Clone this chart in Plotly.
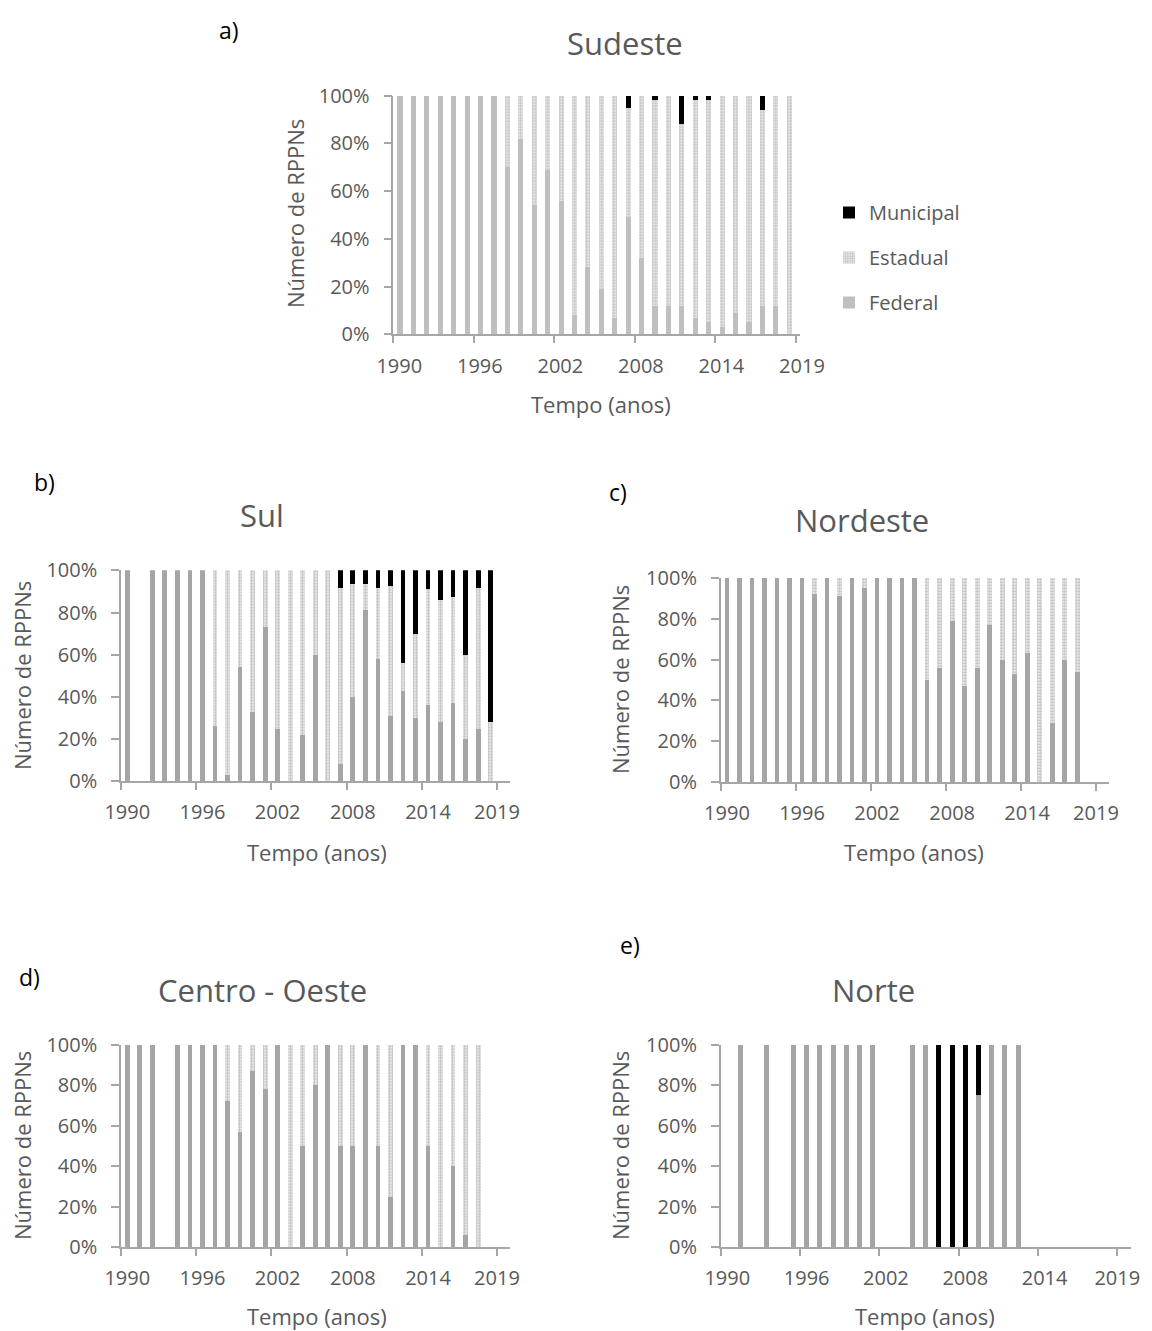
import plotly.graph_objects as go

# ---------------- data (percent of RPPNs per year) ----------------
years = list(range(1990, 2020))
tick_vals = [1989.5, 1995.5, 2001.5, 2007.5, 2013.5, 2019.5]
tick_text = ["1990", "1996", "2002", "2008", "2014", "2019"]
label_vals = [1990, 1996, 2002, 2008, 2014, 2019.5]
y_ticks = [0, 20, 40, 60, 80, 100]
y_tick_text = ["0%", "20%", "40%", "60%", "80%", "100%"]

# a) Sudeste
sudeste_federal = [100, 100, 100, 100, 100, 100, 100, 100, 70, 82, 54, 69, 56, 8, 28, 19, 7, 49, 32, 12,
                   12, 12, 7, 5, 3, 9, 5, 12, 12, 0]
sudeste_estadual = [0, 0, 0, 0, 0, 0, 0, 0, 30, 18, 46, 31, 44, 92, 72, 81, 93, 46, 68, 86,
                    88, 76, 91, 93, 97, 91, 95, 82, 88, 100]
sudeste_municipal = [0, 0, 0, 0, 0, 0, 0, 0, 0, 0, 0, 0, 0, 0, 0, 0, 0, 5, 0, 2,
                     0, 12, 2, 2, 0, 0, 0, 6, 0, 0]

# b) Sul
sul_federal = [100, None, 100, 100, 100, 100, 100, 26, 3, 54, 33, 73, 25, 0, 22, 60, 0, 8, 40, 81,
               58, 31, 43, 30, 36, 28, 37, 20, 25, 0]
sul_estadual = [0, None, 0, 0, 0, 0, 0, 74, 97, 46, 67, 27, 75, 100, 78, 40, 100, 83.5, 53.4, 12.7,
                33.5, 61.4, 13, 40, 55, 58, 50.5, 40, 66.5, 28]
sul_municipal = [0, None, 0, 0, 0, 0, 0, 0, 0, 0, 0, 0, 0, 0, 0, 0, 0, 8.5, 6.6, 6.3,
                 8.5, 7.6, 44, 30, 9, 14, 12.5, 40, 8.5, 72]

# c) Nordeste
nordeste_federal = [100, 100, 100, 100, 100, 100, 100, 92, 100, 91, 100, 95, 100, 100, 100, 100, 50, 56, 79, 47,
                    56, 77, 60, 53, 63, 0, 29, 60, 54, None]
nordeste_estadual = [0, 0, 0, 0, 0, 0, 0, 8, 0, 9, 0, 5, 0, 0, 0, 0, 50, 44, 21, 53,
                     44, 23, 40, 47, 37, 100, 71, 40, 46, None]
nordeste_municipal = [0] * 29 + [None]

# d) Centro - Oeste
co_federal = [100, 100, 100, None, 100, 100, 100, 100, 72, 57, 87, 78, 100, 0, 50, 80, 100, 50, 50, 100,
              50, 25, 100, 100, 50, 0, 40, 6, 0, None]
co_estadual = [0, 0, 0, None, 0, 0, 0, 0, 28, 43, 13, 22, 0, 100, 50, 20, 0, 50, 50, 0,
               50, 75, 0, 0, 50, 100, 60, 94, 100, None]
co_municipal = [0, 0, 0, None] + [0] * 25 + [None]

# e) Norte
norte_federal = [None, 100, None, 100, None, 100, 100, 100, 100, 100, 100, 100, None, None, 100, 100, 0, 0, 0, 75,
                 100, 100, 100, None, None, None, None, None, None, None]
norte_estadual = [None, 0, None, 0, None, 0, 0, 0, 0, 0, 0, 0, None, None, 0, 0, 0, 0, 0, 0,
                  0, 0, 0, None, None, None, None, None, None, None]
norte_municipal = [None, 0, None, 0, None, 0, 0, 0, 0, 0, 0, 0, None, None, 0, 0, 100, 100, 100, 25,
                   0, 0, 0, None, None, None, None, None, None, None]

# ---------------- styling ----------------
W, H = 1152, 1331
FONT = "Open Sans"
TXT = "#595959"
AXC = "#a6a6a6"


def px_x(p):
    return p / W


def px_y(p):
    return 1 - p / H


regions = [
    dict(title="Sudeste", letter="a)", F=sudeste_federal, E=sudeste_estadual, M=sudeste_municipal,
         ax="", lab=None, fed="#bfbfbf", xd=[393.3, 800], yd=[95.7, 334.3], xr=[1989.5, 2019.8],
         title_xy=(625, 43), letter_xy=(229, 30), xt_xy=(601, 404), yt_xy=(295, 214)),
    dict(title="Sul", letter="b)", F=sul_federal, E=sul_estadual, M=sul_municipal,
         ax="2", lab="6", fed="#a5a5a5", xd=[121, 509.5], yd=[570.3, 781.3], xr=[1989.5, 2020.5],
         title_xy=(262, 515), letter_xy=(44, 482), xt_xy=(317, 852), yt_xy=(22, 676)),
    dict(title="Nordeste", letter="c)", F=nordeste_federal, E=nordeste_estadual, M=nordeste_municipal,
         ax="3", lab="7", fed="#a5a5a5", xd=[720.7, 1108.5], yd=[578, 782], xr=[1989.5, 2020.5],
         title_xy=(862, 520), letter_xy=(618, 492), xt_xy=(914, 852), yt_xy=(620, 680)),
    dict(title="Centro - Oeste", letter="d)", F=co_federal, E=co_estadual, M=co_municipal,
         ax="4", lab="8", fed="#a5a5a5", xd=[121, 509.5], yd=[1044.7, 1247.3], xr=[1989.5, 2020.5],
         title_xy=(262, 990), letter_xy=(29, 977), xt_xy=(317, 1316), yt_xy=(22, 1146)),
    dict(title="Norte", letter="e)", F=norte_federal, E=norte_estadual, M=norte_municipal,
         ax="5", lab="9", fed="#a5a5a5", xd=[720.7, 1130.5], yd=[1044.7, 1247.3], xr=[1989.5, 2020.5],
         title_xy=(873, 990), letter_xy=(630, 945), xt_xy=(925, 1316), yt_xy=(620, 1146)),
]

fig = go.Figure()
annotations = []
layout_axes = {}
tickfont = dict(family=FONT, size=20, color=TXT)

for i, r in enumerate(regions):
    xa = "x" + r["ax"]
    ya = "y" + r["ax"]
    first = i == 0
    fig.add_trace(go.Bar(
        x=years, y=r["F"], name="Federal", xaxis=xa, yaxis=ya, width=0.38,
        marker=dict(color=r["fed"], line=dict(width=0)),
        showlegend=first, legendgroup="Federal", legendrank=3,
    ))
    fig.add_trace(go.Bar(
        x=years, y=r["E"], name="Estadual", xaxis=xa, yaxis=ya, width=0.38,
        marker=dict(color="white", line=dict(width=0),
                    pattern=dict(shape=".", fgcolor="#8c8c8c", bgcolor="white", size=3, solidity=0.7)),
        showlegend=first, legendgroup="Estadual", legendrank=2,
    ))
    fig.add_trace(go.Bar(
        x=years, y=r["M"], name="Municipal", xaxis=xa, yaxis=ya, width=0.38,
        marker=dict(color="black", line=dict(width=0)),
        showlegend=first, legendgroup="Municipal", legendrank=1,
    ))

    xkey = "xaxis" + r["ax"]
    ykey = "yaxis" + r["ax"]
    main_x = dict(
        domain=[px_x(r["xd"][0]), px_x(r["xd"][1])], range=r["xr"], anchor=ya,
        tickmode="array", tickvals=tick_vals, ticktext=tick_text, automargin=False,
        ticks="outside", ticklen=7, tickcolor=AXC, tickwidth=1.5,
        showline=True, linecolor=AXC, linewidth=1.5, showgrid=False, zeroline=False,
        tickfont=tickfont, ticklabelstandoff=6, fixedrange=True,
    )
    if r["lab"] is None:
        main_x["ticklabelshift"] = 6
    else:
        main_x["showticklabels"] = False
        lx = "x" + r["lab"]
        # empty trace so that the label-only axis (laid over the main one) is drawn
        fig.add_trace(go.Scatter(x=[], y=[], xaxis=lx, yaxis=ya, showlegend=False,
                                 hoverinfo="skip", mode="markers"))
        layout_axes["xaxis" + r["lab"]] = dict(
            overlaying=xa, anchor=ya, side="bottom", range=r["xr"], automargin=False,
            tickmode="array", tickvals=label_vals, ticktext=tick_text,
            ticks="outside", ticklen=7, tickcolor="rgba(0,0,0,0)", tickwidth=0,
            showline=False, showgrid=False, zeroline=False,
            tickfont=tickfont, ticklabelstandoff=6, fixedrange=True,
        )
    layout_axes[xkey] = main_x
    layout_axes[ykey] = dict(
        domain=[px_y(r["yd"][1]), px_y(r["yd"][0])], range=[0, 100], anchor=xa,
        tickmode="array", tickvals=y_ticks, ticktext=y_tick_text, automargin=False,
        ticks="outside", ticklen=8, tickcolor=AXC, tickwidth=1.5,
        showline=True, linecolor=AXC, linewidth=1.5, showgrid=False, zeroline=False,
        tickfont=tickfont, ticklabelstandoff=10, fixedrange=True,
    )

    annotations.append(dict(text=r["title"], x=px_x(r["title_xy"][0]), y=px_y(r["title_xy"][1]),
                            xref="paper", yref="paper", showarrow=False, xanchor="center", yanchor="middle",
                            font=dict(family=FONT, size=31, color=TXT)))
    annotations.append(dict(text=r["letter"], x=px_x(r["letter_xy"][0]), y=px_y(r["letter_xy"][1]),
                            xref="paper", yref="paper", showarrow=False, xanchor="center", yanchor="middle",
                            font=dict(family=FONT, size=23, color="black")))
    annotations.append(dict(text="Tempo (anos)", x=px_x(r["xt_xy"][0]), y=px_y(r["xt_xy"][1]),
                            xref="paper", yref="paper", showarrow=False, xanchor="center", yanchor="middle",
                            font=dict(family=FONT, size=22, color=TXT)))
    annotations.append(dict(text="Número de RPPNs", x=px_x(r["yt_xy"][0]), y=px_y(r["yt_xy"][1]),
                            xref="paper", yref="paper", showarrow=False, xanchor="center", yanchor="middle",
                            textangle=-90, font=dict(family=FONT, size=22, color=TXT)))

fig.update_layout(
    width=W, height=H,
    margin=dict(l=0, r=0, t=0, b=0, autoexpand=False),
    paper_bgcolor="white", plot_bgcolor="white",
    barmode="stack",
    font=dict(family=FONT, color=TXT),
    showlegend=True,
    legend=dict(x=px_x(829), y=px_y(193), xanchor="left", yanchor="top",
                traceorder="grouped", tracegroupgap=16,
                font=dict(family=FONT, size=20, color=TXT), bgcolor="rgba(0,0,0,0)"),
    annotations=annotations,
    **layout_axes,
)

fig.write_html("out.html")
